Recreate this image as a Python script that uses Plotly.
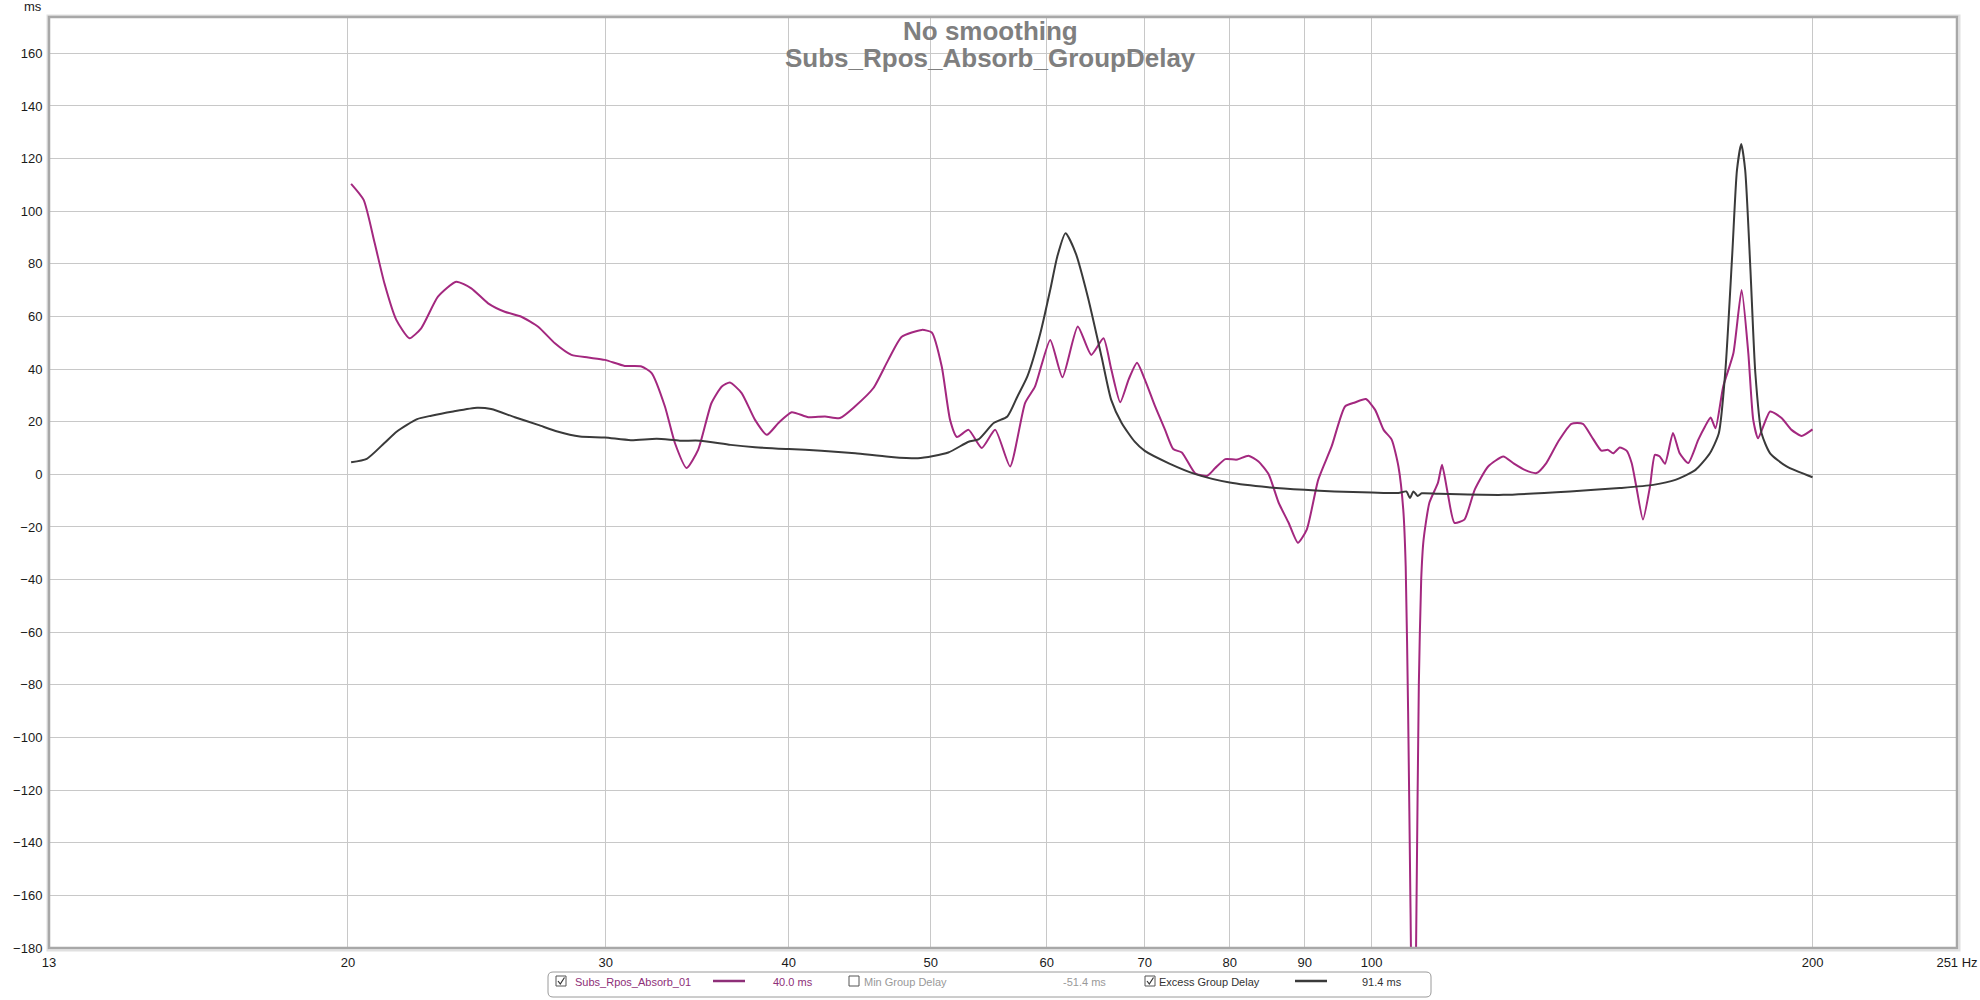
import numpy as np
import plotly.graph_objects as go

# ---------------- data ----------------
mag_freq = [20.1, 20.5, 20.86, 21.18, 21.58, 22.03, 22.44, 23.04, 23.71, 24.28, 24.93, 25.59, 26.27, 26.97,
            27.69, 28.42, 29.18, 29.95, 30.9, 31.73, 32.24, 32.92, 33.44, 34.06, 34.69, 35.42, 36.0, 36.46,
            37.14, 37.93, 38.64, 39.35, 40.18, 41.24, 42.34, 43.35, 44.38, 45.69, 46.77, 47.77, 49.3, 50.08,
            50.87, 51.54, 52.1, 53.06, 54.18, 55.33, 56.64, 57.99, 58.91, 60.33, 61.5, 63.0, 64.35, 65.6,
            66.4, 67.35, 68.25, 69.15, 70.0, 71.15, 72.27, 73.2, 74.2, 75.77, 77.2, 78.2, 79.45, 80.9, 82.4,
            83.7, 85.05, 86.4, 87.76, 89.05, 90.3, 91.95, 93.9, 95.9, 97.4, 99.1, 100.55, 101.9, 103.2, 104.3,
            105.1, 105.5, 105.9, 106.3, 106.8, 107.3, 107.7, 108.1, 108.5, 109.5, 110.99, 111.7, 112.7, 113.9,
            115.7, 117.6, 120.1, 123.0, 124.9, 127.2, 129.6, 131.6, 134.1, 136.9, 139.4, 141.3, 143.5, 145.0,
            146.2, 147.7, 149.3, 150.5, 151.6, 153.2, 154.9, 156.1, 157.3, 158.6, 160.6, 162.3, 164.5, 167.1,
            168.9, 170.4, 171.7, 173.8, 176.6, 178.9, 180.8, 182.2, 183.6, 187.1, 190.5, 193.5, 196.6, 200.0]
mag_val = [110.4, 104.3, 87.8, 72.6, 58.7, 51.7, 55.5, 67.5, 73.2, 70.7, 65.0, 61.8, 59.9, 56.1,
           49.8, 45.4, 44.4, 43.5, 41.2, 41.0, 38.5, 25.8, 11.9, 2.4, 9.4, 27.1, 33.4, 34.9,
           30.9, 20.7, 15.0, 19.5, 23.6, 21.7, 22.0, 21.4, 25.8, 32.8, 43.5, 52.3, 54.9, 53.9,
           41.0, 20.7, 14.2, 16.9, 10.0, 16.9, 3.0, 27.1, 33.4, 51.1, 36.9, 56.2, 45.4, 51.7,
           40.0, 27.4, 36.1, 42.4, 36.1, 25.8, 16.9, 9.6, 8.3, 0.4, -0.6, 2.4, 5.8, 5.6, 7.1,
           4.9, 0.0, -10.8, -18.4, -26.0, -21.0, -2.0, 10.6, 25.8, 27.3, 28.6, 24.5, 16.9, 13.2, 3.0,
           -13.5, -35.0, -90.0, -165.0, -260.0, -165.0, -80.0, -40.0, -25.0, -10.8, -3.2, 3.6, -7.1, -18.4,
           -17.2, -5.8, 3.0, 6.8, 4.3, 1.7, 0.5, 4.3, 12.5, 19.2, 19.2, 14.4, 9.0, 9.3,
           8.0, 10.2, 9.0, 4.3, -4.6, -17.2, -4.6, 7.4, 6.8, 4.0, 15.7, 8.0, 4.3, 13.1,
           18.2, 21.6, 17.5, 33.4, 46.0, 70.1, 46.0, 20.7, 13.7, 23.9, 21.4, 16.9, 14.6, 17.1]

exc_freq = [20.1, 20.6, 21.18, 21.6, 22.3, 22.8, 23.6, 24.5, 25.05, 26.0, 26.97, 27.8, 28.8, 29.95, 31.2,
            32.5, 33.7, 34.8, 36.5, 37.93, 40.0, 42.1, 44.4, 46.8, 49.0, 51.4, 53.06, 53.9, 55.2, 56.4,
            57.3, 58.2, 59.4, 60.33, 61.0, 61.8, 62.8, 64.0, 65.4, 66.4, 67.5, 68.9, 70.0, 72.7, 75.8,
            80.0, 85.0, 90.0, 94.3, 100.0, 104.3, 105.6, 106.2, 106.8, 107.5, 108.2, 111.0, 123.0, 136.6,
            147.7, 155.7, 161.2, 166.4, 170.2, 172.6, 174.4, 176.3, 177.6, 178.8, 179.9, 181.4, 182.8,
            184.6, 187.1, 192.0, 200.0]
exc_val = [4.6, 5.9, 11.9, 16.3, 21.0, 22.3, 23.9, 25.3, 24.8, 21.7, 18.8, 16.3, 14.4, 14.0, 13.0,
           13.5, 12.8, 12.8, 11.2, 10.3, 9.6, 9.0, 8.0, 6.7, 6.1, 8.3, 12.4, 13.3, 19.5, 22.0,
           29.6, 37.2, 53.6, 70.1, 82.7, 91.6, 84.0, 67.5, 44.7, 28.3, 19.5, 12.4, 8.9, 4.2, 0.1,
           -3.1, -4.9, -5.9, -6.5, -6.9, -7.1, -6.5, -9.0, -6.5, -8.2, -7.2, -7.4, -7.8, -6.5,
           -5.2, -4.0, -2.1, 1.7, 8.0, 15.6, 39.6, 84.0, 115.7, 125.5, 115.7, 77.7, 38.5,
           15.6, 8.0, 3.0, -1.1]

x_tick_vals = [12.5, 20, 30, 40, 50, 60, 70, 80, 90, 100, 200, 251]
x_tick_text = ["13", "20", "30", "40", "50", "60", "70", "80", "90", "100", "200", "251 Hz"]
y_tick_vals = list(range(-180, 161, 20))

series_names = ["Subs_Rpos_Absorb_01", "Min Group Delay", "Excess Group Delay"]
series_readouts = ["40.0 ms", "-51.4 ms", "91.4 ms"]

MAG = "#A3287F"
DARK = "#3A3A3A"

# ---------------- layout geometry (pixels) ----------------
W, H = 1980, 1000
L, R, T, B = 49, 1957, 17, 948
PW, PH = R - L, B - T


def px(x):
    return (x - L) / PW


def py(y):
    return (B - y) / PH


fig = go.Figure()
fig.add_trace(go.Scatter(x=mag_freq, y=mag_val, mode="lines", name=series_names[0],
                         line=dict(color=MAG, width=2, shape="spline", smoothing=0.55)))
fig.add_trace(go.Scatter(x=exc_freq, y=exc_val, mode="lines", name=series_names[2],
                         line=dict(color=DARK, width=2, shape="spline", smoothing=0.6)))

font_family = "Arial, Liberation Sans, sans-serif"

fig.update_layout(
    width=W, height=H,
    margin=dict(l=L, r=W - R, t=T, b=H - B, pad=0, autoexpand=False),
    paper_bgcolor="white", plot_bgcolor="white",
    showlegend=False,
    font=dict(family=font_family, size=13, color="#1a1a1a"),
)
fig.update_xaxes(type="log", range=[np.log10(12.5), np.log10(251)], automargin=False,
                 tickvals=x_tick_vals, ticktext=x_tick_text,
                 showgrid=True, gridcolor="#c8c8c8", gridwidth=1.2,
                 ticks="outside", ticklen=2, tickcolor="rgba(0,0,0,0)",
                 zeroline=False, showline=False, tickfont=dict(size=13))
fig.update_yaxes(range=[-180, 173.8], tickvals=y_tick_vals, automargin=False,
                 showgrid=True, gridcolor="#c8c8c8", gridwidth=1.2,
                 ticks="outside", ticklen=3, tickcolor="rgba(0,0,0,0)",
                 zeroline=False, showline=False, tickfont=dict(size=13))

shapes = []
# frame shadow + frame
shapes.append(dict(type="rect", xref="paper", yref="paper", x0=px(L - 1.5), x1=px(R + 2.5),
                   y0=py(B + 2.5), y1=py(T - 1.5), line=dict(color="#e0e0e0", width=2), layer="above"))
shapes.append(dict(type="rect", xref="paper", yref="paper", x0=px(L), x1=px(R), y0=py(B), y1=py(T),
                   line=dict(color="#a8a8a8", width=2.5), layer="above"))

# legend box
lb_x0, lb_x1, lb_y0, lb_y1 = 548, 1431, 972, 997
r = 5
path = (f"M {px(lb_x0 + r)},{py(lb_y0)} L {px(lb_x1 - r)},{py(lb_y0)} "
        f"Q {px(lb_x1)},{py(lb_y0)} {px(lb_x1)},{py(lb_y0 + r)} "
        f"L {px(lb_x1)},{py(lb_y1 - r)} Q {px(lb_x1)},{py(lb_y1)} {px(lb_x1 - r)},{py(lb_y1)} "
        f"L {px(lb_x0 + r)},{py(lb_y1)} Q {px(lb_x0)},{py(lb_y1)} {px(lb_x0)},{py(lb_y1 - r)} "
        f"L {px(lb_x0)},{py(lb_y0 + r)} Q {px(lb_x0)},{py(lb_y0)} {px(lb_x0 + r)},{py(lb_y0)} Z")
shapes.append(dict(type="path", xref="paper", yref="paper", path=path,
                   line=dict(color="#9a9a9a", width=1), fillcolor="white", layer="above"))

cy = 981
checkboxes = [(556, True), (849, False), (1145, True)]
for cx0, checked in checkboxes:
    shapes.append(dict(type="rect", xref="paper", yref="paper", x0=px(cx0), x1=px(cx0 + 10),
                       y0=py(cy + 5), y1=py(cy - 5), line=dict(color="#555555", width=1),
                       fillcolor="white", layer="above"))
    if checked:
        cp = (f"M {px(cx0 + 2)},{py(cy)} L {px(cx0 + 4.3)},{py(cy + 3)} L {px(cx0 + 8.5)},{py(cy - 3.5)}")
        shapes.append(dict(type="path", xref="paper", yref="paper", path=cp,
                           line=dict(color="#333333", width=1.2), layer="above"))

# legend line samples
shapes.append(dict(type="line", xref="paper", yref="paper", x0=px(713), x1=px(745), y0=py(cy), y1=py(cy),
                   line=dict(color="#8E2F78", width=2.5), layer="above"))
shapes.append(dict(type="line", xref="paper", yref="paper", x0=px(1295), x1=px(1327), y0=py(cy), y1=py(cy),
                   line=dict(color=DARK, width=2.5), layer="above"))
fig.update_layout(shapes=shapes)

ann = []
# titles
ann.append(dict(text="<b>No smoothing</b>", xref="paper", yref="paper", x=px(990), y=py(31),
                xanchor="center", yanchor="middle", showarrow=False,
                font=dict(size=26, color="#7f7f7f", family=font_family)))
ann.append(dict(text="<b>Subs_Rpos_Absorb_GroupDelay</b>", xref="paper", yref="paper", x=px(990), y=py(58),
                xanchor="center", yanchor="middle", showarrow=False,
                font=dict(size=26, color="#7f7f7f", family=font_family)))
# unit label
ann.append(dict(text="ms", xref="paper", yref="paper", x=px(44), y=py(6), xanchor="right", yanchor="middle",
                showarrow=False, font=dict(size=13, color="#1a1a1a", family=font_family)))

# legend texts
leg_items = [
    (573, series_names[0], "#8E2F78"),
    (771, series_readouts[0], "#8E2F78"),
    (862, series_names[1], "#999999"),
    (1061, series_readouts[1], "#999999"),
    (1157, series_names[2], "#333333"),
    (1360, series_readouts[2], "#333333"),
]
for x0, t, c in leg_items:
    ann.append(dict(text=t, xref="paper", yref="paper", x=px(x0), y=py(cy + 1), xanchor="left",
                    yanchor="middle", showarrow=False, font=dict(size=11, color=c, family=font_family)))
fig.update_layout(annotations=ann)

fig.write_html("out.html", config={"displayModeBar": False},
               post_script="document.body.style.margin='0';document.body.style.overflow='hidden';")
